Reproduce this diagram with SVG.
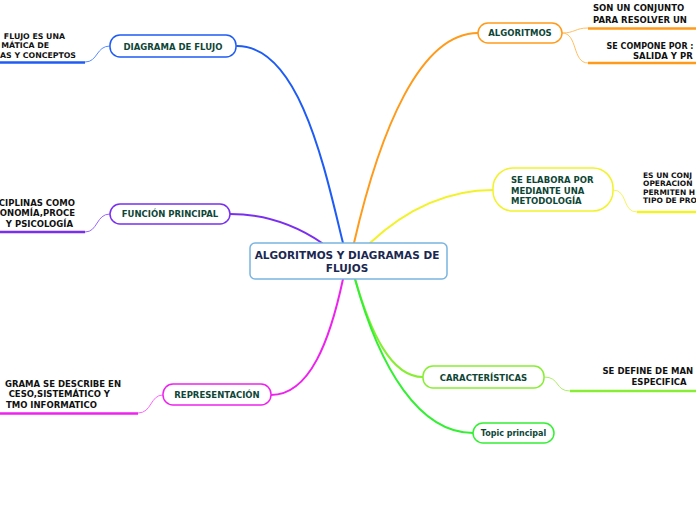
<svg xmlns="http://www.w3.org/2000/svg" width="696" height="520" viewBox="0 0 696 520">
<style>
.node{fill:#fff;stroke-width:1.5}
.nt{font-family:"DejaVu Sans",Verdana,sans-serif;font-weight:bold;font-size:8.5px;fill:#0e4636;text-anchor:middle}
.lt{font-family:"DejaVu Sans",Verdana,sans-serif;font-weight:bold;font-size:8.5px;fill:#111}
.ct{font-family:"DejaVu Sans",Verdana,sans-serif;font-weight:bold;font-size:10.5px;fill:#1a2850;text-anchor:middle}
.c{fill:none;stroke-width:2;stroke-linecap:round}
.s{fill:none;stroke-width:1}
.u{fill:none;stroke-width:2.5}
.e{text-anchor:end}
.sm{font-size:7.8px}
</style>
<rect width="696" height="520" fill="#fff"/>
<g id="connectors">
  <path class="c" stroke="#1f5cf5" d="M343,243 C325,170 300,46 237,46"/>
  <path class="c" stroke="#7a2ff0" d="M322,243 C300,228 270,214 230,214"/>
  <path class="c" stroke="#ee22ee" d="M343,279 C330,340 310,395 271,395"/>
  <path class="c" stroke="#ff9a1a" d="M354,243 C380,130 420,33 478,33"/>
  <path class="c" stroke="#f2f22a" d="M370,243 C400,215 440,190 493,190"/>
  <path class="c" stroke="#88ee33" d="M355,279 C370,330 390,377 423,377"/>
  <path class="c" stroke="#33f033" d="M355,279 C380,370 420,433 473,433"/>
  <path class="s" stroke="#5a8cff" d="M110,46 C96,46 98,62 85,62"/>
  <path class="u" stroke="#1f5cf5" d="M0,62.5 H85"/>
  <path class="s" stroke="#9a66ff" d="M110,214 C96,214 98,232 85,232"/>
  <path class="u" stroke="#7a2ff0" d="M0,232 H85"/>
  <path class="s" stroke="#ff66ff" d="M163,395 C150,395 152,413 138,413"/>
  <path class="u" stroke="#ee22ee" d="M0,413.5 H138"/>
  <path class="s" stroke="#ffc060" d="M562,33 C575,33 575,28 588,28"/>
  <path class="u" stroke="#ff9a1a" d="M588,28.5 H696"/>
  <path class="s" stroke="#ffc060" d="M562,33 C578,33 572,63 588,63"/>
  <path class="u" stroke="#ff9a1a" d="M588,63 H696"/>
  <path class="s" stroke="#f5f560" d="M613,190 C628,190 622,212 637,212"/>
  <path class="u" stroke="#f2f22a" d="M637,212 H696"/>
  <path class="s" stroke="#aaf066" d="M544,377 C560,377 555,391 570,391"/>
  <path class="u" stroke="#88ee33" d="M570,391 H696"/>
</g>
<g id="center">
  <rect x="250" y="243" width="197" height="36" rx="5" fill="#fff" stroke="#7ab4e0" stroke-width="1.5"/>
  <text class="ct" x="347" y="259">ALGORITMOS Y DIAGRAMAS DE</text>
  <text class="ct" x="347" y="272">FLUJOS</text>
</g>
<g id="diagrama-de-flujo">
  <rect class="node" x="110" y="35" width="126" height="22" rx="10" stroke="#1f5cf5"/>
  <text class="nt" x="173" y="49.5">DIAGRAMA DE FLUJO</text>
</g>
<g id="funcion-principal">
  <rect class="node" x="110" y="204" width="120" height="20" rx="10" stroke="#7a2ff0"/>
  <text class="nt" x="170" y="217">FUNCIÓN PRINCIPAL</text>
</g>
<g id="representacion">
  <rect class="node" x="163" y="384" width="108" height="21" rx="10" stroke="#ee22ee"/>
  <text class="nt" x="217" y="397.5">REPRESENTACIÓN</text>
</g>
<g id="algoritmos">
  <rect class="node" x="478" y="23" width="84" height="20" rx="10" stroke="#ff9a1a"/>
  <text class="nt" x="520" y="36">ALGORITMOS</text>
</g>
<g id="se-elabora">
  <rect class="node" x="493" y="168" width="120" height="43" rx="20" stroke="#f2f22a"/>
  <text class="nt" x="511" y="183" style="text-anchor:start">SE ELABORA POR</text>
  <text class="nt" x="511" y="193.5" style="text-anchor:start">MEDIANTE UNA</text>
  <text class="nt" x="511" y="204" style="text-anchor:start">METODOLOGÍA</text>
</g>
<g id="caracteristicas">
  <rect class="node" x="423" y="366" width="121" height="22" rx="10" stroke="#88ee33"/>
  <text class="nt" x="483.5" y="380.5">CARACTERÍSTICAS</text>
</g>
<g id="topic-principal">
  <rect class="node" x="473" y="423" width="81" height="20" rx="10" stroke="#33f033"/>
  <text class="nt" x="513.5" y="436" style="font-size:8px">Topic principal</text>
</g>
<g id="leaf-diagrama">
  <text class="lt e sm" x="65" y="38.5">FLUJO ES UNA</text>
  <text class="lt e sm" x="49" y="48">MÁTICA DE</text>
  <text class="lt e sm" x="76" y="57.5">AS Y CONCEPTOS</text>
</g>
<g id="leaf-funcion">
  <text class="lt e" x="75" y="205.5">CIPLINAS COMO</text>
  <text class="lt e" x="75" y="216">ONOMÍA,PROCE</text>
  <text class="lt e" x="73" y="226.5">Y PSICOLOGÍA</text>
</g>
<g id="leaf-representacion">
  <text class="lt e" x="121" y="386.5">GRAMA SE DESCRIBE EN</text>
  <text class="lt e" x="110" y="397">CESO,SISTEMÁTICO Y</text>
  <text class="lt e" x="97" y="407.5">TMO INFORMATICO</text>
</g>
<g id="leaf-algoritmos-1">
  <text class="lt" x="593" y="11">SON UN CONJUNTO</text>
  <text class="lt" x="593" y="22.5">PARA RESOLVER UN</text>
</g>
<g id="leaf-algoritmos-2">
  <text class="lt" x="606.5" y="48.5" style="font-size:8px">SE COMPONE POR :</text>
  <text class="lt" x="633" y="59">SALIDA Y PR</text>
</g>
<g id="leaf-elabora">
  <text class="lt" x="643" y="177.5" style="font-size:7.5px">ES UN CONJ</text>
  <text class="lt" x="643" y="186" style="font-size:7.5px">OPERACION</text>
  <text class="lt" x="643" y="194.5" style="font-size:7.5px">PERMITEN H</text>
  <text class="lt" x="643" y="203" style="font-size:7.5px">TIPO DE PRO</text>
</g>
<g id="leaf-caracteristicas">
  <text class="lt" x="602.5" y="374">SE DEFINE DE MAN</text>
  <text class="lt" x="631.5" y="385">ESPECIFICA</text>
</g>
</svg>
